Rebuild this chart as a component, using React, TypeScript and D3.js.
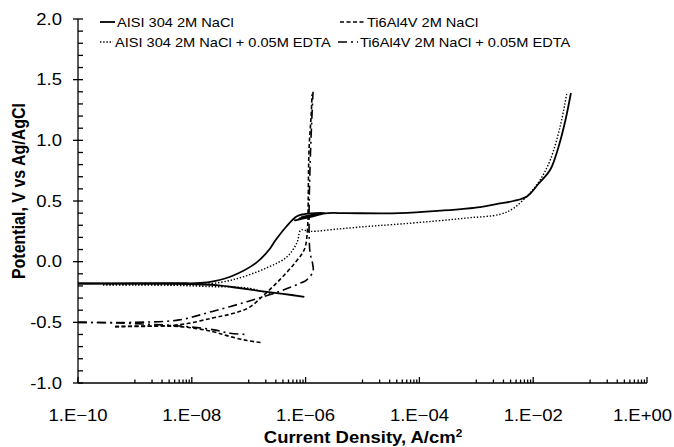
import React, { useEffect, useRef } from 'react';
import * as d3 from 'd3';

type Pt = [number, number]; // [current density A/cm2, potential V]

// AISI 304 in 2M NaCl
const ssCathodic: Pt[] = [
  [9.5e-7, -0.29], [4.0e-7, -0.265], [1.5e-7, -0.24], [6.3e-8, -0.215],
  [2.95e-8, -0.195], [1e-8, -0.185], [3.2e-9, -0.18], [1e-10, -0.18],
];
const ssAnodic: Pt[] = [
  [1e-10, -0.18], [1e-9, -0.18], [6e-9, -0.178], [1.4e-8, -0.176], [2.5e-8, -0.16],
  [5e-8, -0.12], [1.35e-7, -0.01], [2.3e-7, 0.10], [3.0e-7, 0.18], [4.6e-7, 0.29],
  [6.8e-7, 0.37], [8.7e-7, 0.39], [2.2e-6, 0.40], [6.5e-7, 0.34], [2.0e-6, 0.395],
  [7.5e-7, 0.355], [1.8e-6, 0.39], [8.5e-7, 0.37], [2.5e-6, 0.40], [5e-6, 0.40],
  [4.5e-5, 0.40], [2.3e-4, 0.42], [1.17e-3, 0.45], [2.6e-3, 0.48], [4.5e-3, 0.50],
  [7.9e-3, 0.54], [1.23e-2, 0.64], [2.0e-2, 0.76], [2.8e-2, 0.95], [3.7e-2, 1.17],
  [4.6e-2, 1.39],
];

// AISI 304 in 2M NaCl + 0.05M EDTA
const ssEdtaCathodic: Pt[] = [
  [2.75e-10, -0.19], [1e-9, -0.19], [5e-9, -0.195], [2e-8, -0.205],
  [9.3e-8, -0.217], [2.1e-7, -0.255], [2.7e-7, -0.265],
];
const ssEdtaAnodic: Pt[] = [
  [2.75e-10, -0.19], [1e-9, -0.19], [6e-9, -0.19], [1.4e-8, -0.19], [5.2e-8, -0.15],
  [2.1e-7, -0.05], [4.7e-7, 0.04], [7.1e-7, 0.16], [7.9e-7, 0.25], [8.5e-7, 0.262],
  [1.2e-6, 0.25], [3.9e-6, 0.27], [1.2e-5, 0.29], [3.4e-5, 0.306], [1.74e-4, 0.333],
  [6.9e-4, 0.36], [2.6e-3, 0.39], [4.5e-3, 0.44], [8.9e-3, 0.57], [1.35e-2, 0.68],
  [2.0e-2, 0.84], [3.0e-2, 1.12], [3.9e-2, 1.39],
];

// Ti6Al4V in 2M NaCl
const tiCathodic: Pt[] = [
  [4.5e-10, -0.535], [6e-9, -0.535], [2.3e-8, -0.576], [4.7e-8, -0.617],
  [9.3e-8, -0.65], [1.7e-7, -0.667],
];
const tiAnodic: Pt[] = [
  [4.5e-10, -0.535], [6e-9, -0.52], [2.3e-8, -0.465], [5e-8, -0.43], [1.0e-7, -0.38],
  [1.9e-7, -0.27], [3.5e-7, -0.15], [6.5e-7, -0.01], [9.5e-7, 0.10], [1.07e-6, 0.24],
  [1.1e-6, 0.37], [1.15e-6, 0.93], [1.25e-6, 1.2], [1.3e-6, 1.38],
];

// Ti6Al4V in 2M NaCl + 0.05M EDTA
const tiEdtaCathodic: Pt[] = [
  [1e-10, -0.50], [4.5e-10, -0.505], [6e-9, -0.53], [2.3e-8, -0.56],
  [4.7e-8, -0.59], [9.3e-8, -0.60],
];
const tiEdtaAnodic: Pt[] = [
  [1e-10, -0.50], [1e-9, -0.50], [6e-9, -0.48], [2.3e-8, -0.41], [9.3e-8, -0.33],
  [3.5e-7, -0.245], [7.9e-7, -0.18], [1.05e-6, -0.15], [1.35e-6, -0.08], [1.32e-6, -0.01],
  [1.2e-6, 0.07], [1.15e-6, 0.3], [1.2e-6, 0.8], [1.35e-6, 1.40],
];

const xTickValues = [1e-10, 1e-8, 1e-6, 1e-4, 1e-2, 1];
const xTickLabels = ['1.E\u221210', '1.E\u221208', '1.E\u221206', '1.E\u221204', '1.E\u221202', '1.E+00'];
const yTickValues = [-1, -0.5, 0, 0.5, 1, 1.5, 2];

const series = [
  { name: 'AISI 304 2M NaCl', parts: [ssCathodic, ssAnodic], dash: null, width: 1.8 },
  { name: 'Ti6Al4V 2M NaCl', parts: [tiCathodic, tiAnodic], dash: '4,2.5', width: 1.6 },
  { name: 'AISI 304 2M NaCl + 0.05M EDTA', parts: [ssEdtaCathodic, ssEdtaAnodic], dash: '1.4,1.8', width: 1.4 },
  { name: 'Ti6Al4V 2M NaCl + 0.05M EDTA', parts: [tiEdtaCathodic, tiEdtaAnodic], dash: '9,4,2,4', width: 1.6 },
];

const W = 674;
const H = 447;
const FONT = '"Liberation Sans", Arial, sans-serif';
// the source image is a bit wider than tall, so text is stretched sideways
const SX = 1.12;

export default function App() {
  const ref = useRef<SVGSVGElement>(null);

  useEffect(() => {
    const svg = d3.select(ref.current);
    svg.selectAll('*').remove();

    const x = d3.scaleLog().domain([1e-10, 1]).range([78, 647]);
    const y = d3.scaleLinear().domain([-1, 2]).range([383, 19]);

    const plot = svg.append('g');

    const line = d3.line<Pt>()
      .x(d => x(d[0]))
      .y(d => y(d[1]))
      .curve(d3.curveCatmullRom.alpha(0.5));

    series.forEach(s => {
      s.parts.forEach(p => {
        plot.append('path')
          .attr('d', line(p))
          .attr('fill', 'none')
          .attr('stroke', '#000')
          .attr('stroke-width', s.width)
          .attr('stroke-dasharray', s.dash)
          .attr('stroke-linejoin', 'round');
      });
    });

    // axes
    const ax = svg.append('g').attr('stroke', '#000').attr('stroke-width', 1.3);
    ax.append('line').attr('x1', x(1e-10)).attr('x2', x(1)).attr('y1', y(-1)).attr('y2', y(-1));
    ax.append('line').attr('x1', x(1e-10)).attr('x2', x(1e-10)).attr('y1', y(-1)).attr('y2', y(2));

    // y ticks
    d3.range(-10, 21).forEach(i => {
      const v = i / 10;
      const major = i % 5 === 0;
      ax.append('line')
        .attr('x1', x(1e-10) - (major ? 5 : 0))
        .attr('x2', x(1e-10) + 5)
        .attr('y1', y(v)).attr('y2', y(v));
    });

    // x ticks: minor ticks at k*10^(odd exponent), major at labelled decades
    xTickValues.forEach((t, i) => {
      ax.append('line').attr('x1', x(t)).attr('x2', x(t)).attr('y1', y(-1)).attr('y2', y(-1) - 6);
      if (i < xTickValues.length - 1) {
        d3.range(1, 10).forEach(k => {
          const v = k * t * 10;
          ax.append('line').attr('x1', x(v)).attr('x2', x(v)).attr('y1', y(-1)).attr('y2', y(-1) - 3.5);
        });
      }
    });

    const txt = svg.append('g').attr('font-family', FONT).attr('fill', '#000');
    const label = (px: number, py: number, sx: number) =>
      txt.append('g').attr('transform', `translate(${px},${py}) scale(${sx},1)`).append('text');

    yTickValues.forEach(v => {
      label(62, y(v), SX)
        .attr('dy', '0.35em')
        .attr('text-anchor', 'end')
        .attr('font-size', 16.5)
        .text(d3.format('.1f')(v).replace('\u2212', '-'));
    });

    xTickValues.forEach((t, i) => {
      const last = i === xTickValues.length - 1;
      label(last ? 672 : x(t), 421, SX)
        .attr('text-anchor', last ? 'end' : 'middle')
        .attr('font-size', 16.5)
        .text(xTickLabels[i]);
    });

    const xt = label(363, 443, SX)
      .attr('text-anchor', 'middle')
      .attr('font-size', 16.5)
      .attr('font-weight', 'bold')
      .text('Current Density, A/cm');
    xt.append('tspan')
      .attr('dy', -6)
      .attr('font-size', 10.5)
      .text('2');

    txt.append('text')
      .attr('transform', `translate(25,191) scale(${SX},1) rotate(-90)`)
      .attr('text-anchor', 'middle')
      .attr('font-size', 16)
      .attr('font-weight', 'bold')
      .text('Potential, V vs Ag/AgCl');

    // legend
    const legendPos = [
      { x: 100, y: 22 },
      { x: 340, y: 22 },
      { x: 100, y: 42 },
      { x: 338, y: 42 },
    ];
    const sampleLen = [15, 25, 13, 20];
    series.forEach((s, i) => {
      const p = legendPos[i];
      svg.append('line')
        .attr('x1', p.x).attr('x2', p.x + sampleLen[i])
        .attr('y1', p.y).attr('y2', p.y)
        .attr('stroke', '#000')
        .attr('stroke-width', s.width)
        .attr('stroke-dasharray', s.dash);
      label(p.x + sampleLen[i] + 2, p.y, 1.08)
        .attr('dy', '0.35em')
        .attr('font-size', 13.5)
        .text(s.name);
    });
  }, []);

  return (
    <div style={{ position: 'fixed', left: 0, top: 0, width: W, height: H, background: '#fff' }}>
      <svg ref={ref} width={W} height={H} style={{ display: 'block' }} />
    </div>
  );
}
